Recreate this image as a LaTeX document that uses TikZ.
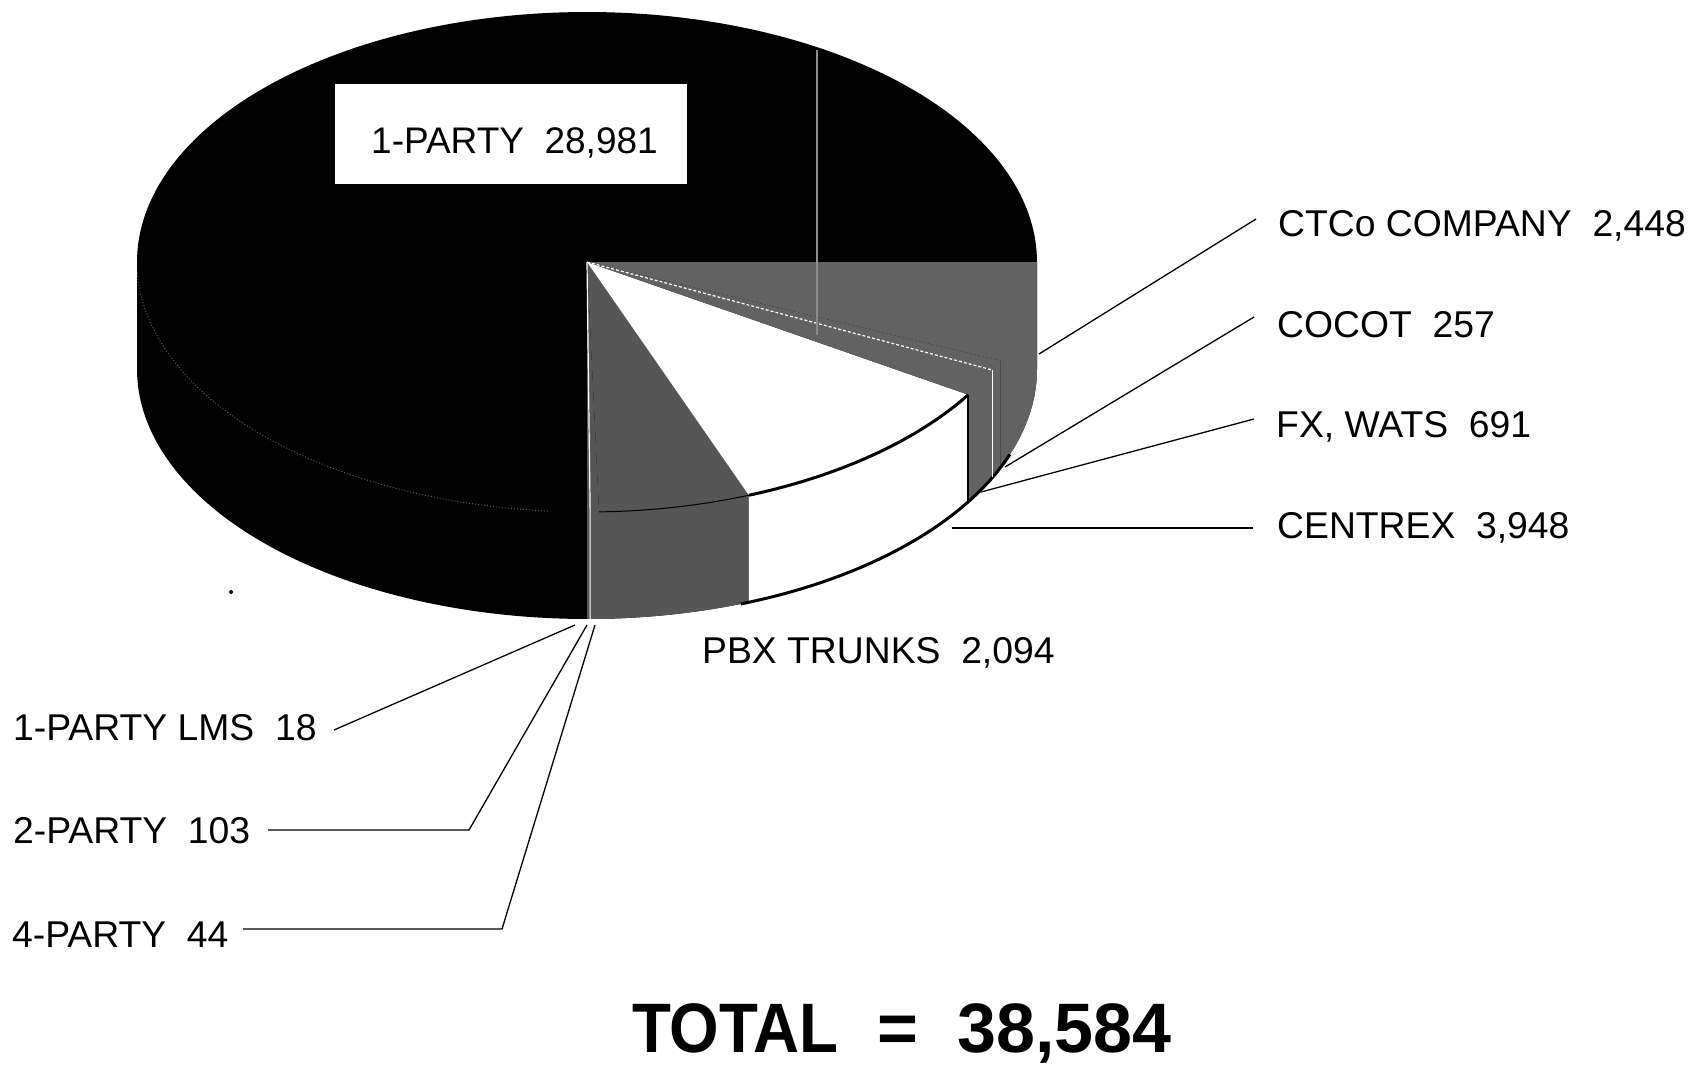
\documentclass[tikz,border=0pt]{standalone}
\usepackage{fontspec}
\usepackage{graphicx}
\setmainfont{Liberation Sans}
\definecolor{dgray}{RGB}{86,86,86}
\definecolor{mgray}{RGB}{98,98,98}
\newcommand{\pcx}{587}
\newcommand{\pcy}{262}
\newcommand{\prx}{450}
\newcommand{\pry}{250}
\newcommand{\pby}{369}
\newcommand{\topat}[1]{({\pcx+\prx*cos(#1)},{\pcy+\pry*sin(#1)})}
\newcommand{\botat}[1]{({\pcx+\prx*cos(#1)},{\pby+\pry*sin(#1)})}
\newcommand{\pieslice}[3]{\fill[#3] (\pcx,\pcy) -- \topat{#1} -- plot[domain=#1:#2,samples=60] ({\pcx+\prx*cos(\x)},{\pby+\pry*sin(\x)}) -- \topat{#2} -- cycle;}
\begin{document}
\begin{tikzpicture}[x=1pt,y=-1pt,
  lab/.style={anchor=base west, inner sep=0pt, font=\fontsize{37.3}{40}\selectfont},
  leader/.style={draw=black, line width=1.3pt},
  edge/.style={draw=black, line width=3pt},
  sliceline/.style={draw=white, line width=1.2pt}]
\useasboundingbox (0,0) rectangle (1701,1065);
% whole pie silhouette (1-PARTY, black)
\fill[black] (137,\pcy) -- plot[domain=180:360,samples=150] ({\pcx+\prx*cos(\x)},{\pcy+\pry*sin(\x)})
   -- (1037,\pby) -- plot[domain=0:180,samples=150] ({\pcx+\prx*cos(\x)},{\pby+\pry*sin(\x)}) -- cycle;
% faint front edge of the 1-PARTY top
\draw[black!65!white, line width=1pt, dotted] plot[domain=95:178,samples=80] ({\pcx+\prx*cos(\x)},{\pcy+\pry*sin(\x)});
% slices of the front-right quadrant
\pieslice{90}{88.46}{dgray}
\pieslice{88.46}{68.92}{dgray}
\pieslice{68.92}{32.08}{white}
\pieslice{32.08}{25.63}{mgray}
\pieslice{25.63}{23.24}{mgray}
\pieslice{23.24}{0}{mgray}
% edges
\draw[black, line width=1pt] plot[domain=88.46:68.92,samples=40] ({\pcx+\prx*cos(\x)},{\pcy+\pry*sin(\x)});
\draw[edge] plot[domain=68.92:32.08,samples=60] ({\pcx+\prx*cos(\x)},{\pcy+\pry*sin(\x)});
\draw[edge] plot[domain=70:20,samples=60] ({\pcx+\prx*cos(\x)},{\pby+\pry*sin(\x)});
\draw[black, line width=2pt] \topat{32.08} -- \botat{32.08};
\draw[sliceline] (\pcx,\pcy) -- \topat{89.6} -- \botat{89.6};
\draw[sliceline, dash pattern=on 3pt off 2pt] (\pcx,\pcy) -- \topat{25.63};
\draw[sliceline] \topat{25.63} -- \botat{25.63};
\draw[black!45!white, line width=1.2pt] (817,50) -- (817,335);
\fill[black] (231,592) circle (2);
% 1-PARTY label box
\node[fill=white, inner sep=0pt, minimum width=352pt, minimum height=100pt] (box) at (511,134) {};
\node[anchor=base west, inner sep=0pt, font=\fontsize{37}{40}\selectfont] (onep) at (371,153) {1-PARTY~~28,981};
% right labels
\node[lab] (ctco) at (1278,236) {CTCo COMPANY~~2,448};
\node[lab] (cocot) at (1277,337) {COCOT~~257};
\node[lab] (fx) at (1276,437) {FX, WATS~~691};
\node[lab] (cent) at (1277,538) {CENTREX~~3,948};
\node[lab] (pbx) at (702,663) {PBX TRUNKS~~2,094};
% left labels
\node[lab] (lms) at (13,740) {1-PARTY LMS~~18};
\node[lab] (two) at (13,843) {2-PARTY~~103};
\node[lab] (four) at (12,947) {4-PARTY~~44};
% leader end points
\coordinate (ctcoA) at (1256,219);   \coordinate (ctcoB) at (1039,354);
\coordinate (cocotA) at (1254,317);  \coordinate (cocotB) at (1005,467);
\coordinate (fxA) at (1254,419);     \coordinate (fxB) at (981,492);
\coordinate (centA) at (1253,528);   \coordinate (centB) at (952,528);
\coordinate (lmsA) at (334,730);     \coordinate (lmsB) at (575,625);
\coordinate (twoA) at (268,830);     \coordinate (twoK) at (469,830);  \coordinate (twoB) at (587,625);
\coordinate (fourA) at (243,929);    \coordinate (fourK) at (502,929); \coordinate (fourB) at (595,625);
\draw[leader] (ctcoA) -- (ctcoB);
\draw[leader] (cocotA) -- (cocotB);
\draw[leader] (fxA) -- (fxB);
\draw[leader] (centA) -- (centB);
\draw[leader] (lmsA) -- (lmsB);
\draw[leader] (twoA) -- (twoK) -- (twoB);
\draw[leader] (fourA) -- (fourK) -- (fourB);
% total
\node[anchor=base west, inner sep=0pt, font=\bfseries\fontsize{70}{80}\selectfont] (total) at (632,1052) {\scalebox{0.91}[1]{TOTAL}~~=~~38,584};
\end{tikzpicture}
\end{document}
